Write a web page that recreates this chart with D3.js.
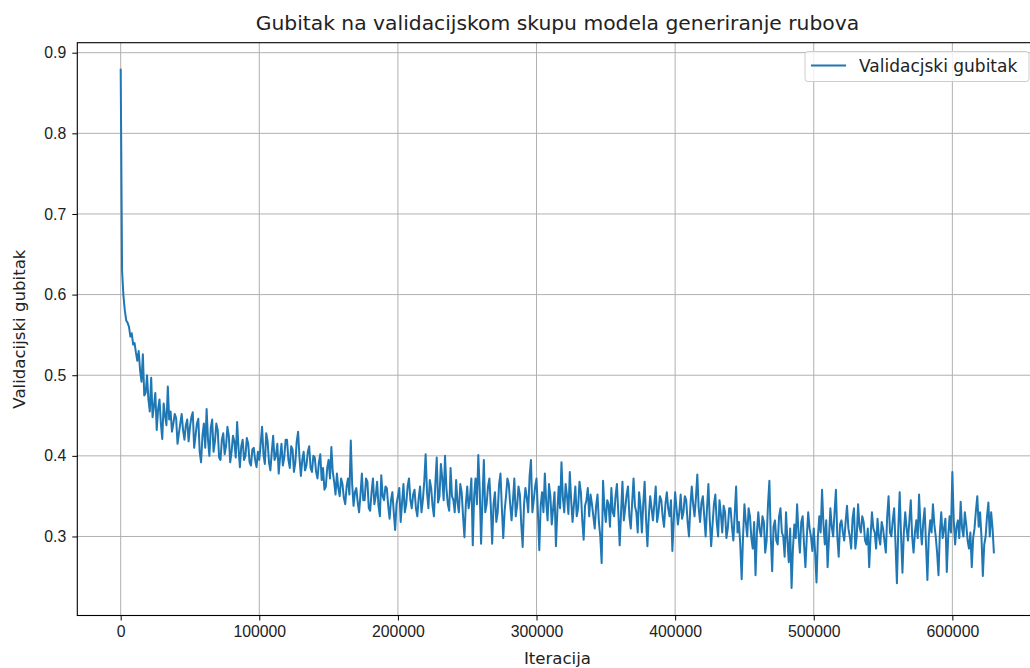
<!DOCTYPE html>
<html>
<head>
<meta charset="utf-8">
<script src="https://cdn.jsdelivr.net/npm/d3@7"></script>
<style>
  body { margin: 0; background: #fff; }
  svg { display: block; font-family: "DejaVu Sans", sans-serif; }
  .grid line { stroke: #b0b0b0; stroke-width: 1; }
  .axis path, .axis line { stroke: #000; }
  .axis text { fill: #222; font-size: 15.8px; }
</style>
</head>
<body>
<svg width="1030" height="668"></svg>
<script>
const title = 'Gubitak na validacijskom skupu modela generiranje rubova';
const xLabel = 'Iteracija';
const yLabel = 'Validacijski gubitak';
const legendLabel = 'Validacjski gubitak';

const xTicks = [0, 100000, 200000, 300000, 400000, 500000, 600000];
const yTicks = [0.3, 0.4, 0.5, 0.6, 0.7, 0.8, 0.9];

// one reading every 1000 iterations, 20 per row
const iterStep = 1000;
const loss = [
  0.880, 0.630, 0.598, 0.580, 0.568, 0.565, 0.560, 0.548, 0.552, 0.538, 0.540, 0.528, 0.518, 0.530, 0.506, 0.492, 0.526, 0.475, 0.478, 0.500,
  0.470, 0.455, 0.497, 0.448, 0.462, 0.478, 0.432, 0.458, 0.470, 0.440, 0.421, 0.465, 0.450, 0.438, 0.486, 0.445, 0.455, 0.430, 0.440, 0.452,
  0.447, 0.415, 0.428, 0.440, 0.452, 0.432, 0.420, 0.438, 0.445, 0.418, 0.436, 0.448, 0.454, 0.410, 0.425, 0.440, 0.446, 0.405, 0.392, 0.425,
  0.440, 0.410, 0.458, 0.420, 0.400, 0.435, 0.445, 0.405, 0.418, 0.440, 0.432, 0.398, 0.395, 0.420, 0.428, 0.402, 0.412, 0.436, 0.425, 0.392,
  0.405, 0.425, 0.418, 0.398, 0.442, 0.410, 0.386, 0.412, 0.420, 0.395, 0.400, 0.422, 0.415, 0.392, 0.388, 0.408, 0.410, 0.395, 0.386, 0.405,
  0.395, 0.415, 0.436, 0.402, 0.390, 0.428, 0.418, 0.392, 0.382, 0.405, 0.425, 0.395, 0.400, 0.415, 0.378, 0.398, 0.415, 0.388, 0.398, 0.420,
  0.420, 0.395, 0.385, 0.412, 0.408, 0.380, 0.392, 0.418, 0.430, 0.398, 0.375, 0.395, 0.405, 0.382, 0.388, 0.405, 0.412, 0.385, 0.380, 0.400,
  0.398, 0.380, 0.372, 0.392, 0.402, 0.370, 0.385, 0.358, 0.362, 0.385, 0.395, 0.372, 0.411, 0.380, 0.368, 0.352, 0.378, 0.360, 0.350, 0.372,
  0.365, 0.348, 0.340, 0.362, 0.372, 0.352, 0.419, 0.365, 0.338, 0.355, 0.360, 0.342, 0.330, 0.352, 0.378, 0.345, 0.345, 0.372, 0.368, 0.335,
  0.332, 0.355, 0.372, 0.340, 0.350, 0.368, 0.338, 0.325, 0.376, 0.350, 0.345, 0.362, 0.360, 0.338, 0.322, 0.345, 0.355, 0.330, 0.308, 0.340,
  0.350, 0.360, 0.318, 0.342, 0.365, 0.330, 0.340, 0.362, 0.372, 0.345, 0.335, 0.352, 0.358, 0.335, 0.325, 0.348, 0.362, 0.330, 0.345, 0.368,
  0.402, 0.355, 0.335, 0.370, 0.360, 0.338, 0.325, 0.365, 0.398, 0.342, 0.350, 0.390, 0.372, 0.345, 0.400, 0.360, 0.340, 0.332, 0.385, 0.350,
  0.345, 0.330, 0.370, 0.342, 0.330, 0.365, 0.355, 0.325, 0.299, 0.340, 0.362, 0.335, 0.348, 0.372, 0.289, 0.350, 0.372, 0.340, 0.401, 0.360,
  0.291, 0.345, 0.395, 0.330, 0.340, 0.362, 0.372, 0.338, 0.291, 0.340, 0.355, 0.318, 0.330, 0.365, 0.378, 0.335, 0.298, 0.332, 0.350, 0.372,
  0.365, 0.340, 0.320, 0.345, 0.372, 0.325, 0.338, 0.362, 0.352, 0.315, 0.287, 0.340, 0.360, 0.348, 0.330, 0.375, 0.395, 0.330, 0.345, 0.362,
  0.372, 0.330, 0.283, 0.338, 0.355, 0.330, 0.378, 0.342, 0.320, 0.365, 0.350, 0.315, 0.335, 0.355, 0.288, 0.330, 0.362, 0.335, 0.392, 0.348,
  0.330, 0.365, 0.350, 0.328, 0.380, 0.345, 0.318, 0.340, 0.362, 0.325, 0.335, 0.368, 0.355, 0.320, 0.296, 0.338, 0.345, 0.360, 0.325, 0.352,
  0.340, 0.325, 0.310, 0.338, 0.352, 0.318, 0.300, 0.267, 0.369, 0.335, 0.318, 0.345, 0.340, 0.312, 0.360, 0.330, 0.325, 0.350, 0.365, 0.330,
  0.289, 0.330, 0.368, 0.320, 0.335, 0.352, 0.362, 0.325, 0.310, 0.342, 0.372, 0.338, 0.330, 0.305, 0.355, 0.338, 0.305, 0.340, 0.368, 0.322,
  0.288, 0.325, 0.350, 0.335, 0.320, 0.340, 0.362, 0.318, 0.330, 0.350, 0.345, 0.325, 0.312, 0.340, 0.355, 0.335, 0.325, 0.345, 0.282, 0.320,
  0.355, 0.335, 0.315, 0.330, 0.352, 0.322, 0.330, 0.350, 0.345, 0.318, 0.300, 0.338, 0.362, 0.340, 0.325, 0.348, 0.377, 0.335, 0.318, 0.342,
  0.350, 0.325, 0.300, 0.335, 0.365, 0.320, 0.288, 0.315, 0.340, 0.352, 0.318, 0.300, 0.345, 0.328, 0.305, 0.338, 0.330, 0.298, 0.310, 0.335,
  0.335, 0.312, 0.295, 0.328, 0.362, 0.305, 0.318, 0.290, 0.247, 0.300, 0.340, 0.318, 0.300, 0.335, 0.325, 0.298, 0.285, 0.318, 0.252, 0.305,
  0.330, 0.308, 0.300, 0.325, 0.318, 0.280, 0.295, 0.340, 0.369, 0.300, 0.257, 0.312, 0.320, 0.295, 0.290, 0.325, 0.335, 0.305, 0.300, 0.275,
  0.330, 0.295, 0.268, 0.310, 0.236, 0.285, 0.315, 0.298, 0.340, 0.305, 0.280, 0.318, 0.325, 0.290, 0.262, 0.300, 0.330, 0.310, 0.300, 0.282,
  0.310, 0.280, 0.243, 0.300, 0.325, 0.305, 0.358, 0.315, 0.290, 0.320, 0.262, 0.298, 0.335, 0.312, 0.300, 0.330, 0.358, 0.300, 0.275, 0.315,
  0.320, 0.305, 0.295, 0.318, 0.338, 0.310, 0.300, 0.285, 0.322, 0.335, 0.285, 0.300, 0.340, 0.312, 0.305, 0.325, 0.318, 0.295, 0.290, 0.310,
  0.262, 0.300, 0.330, 0.310, 0.305, 0.285, 0.322, 0.300, 0.290, 0.318, 0.310, 0.295, 0.280, 0.325, 0.350, 0.305, 0.300, 0.320, 0.335, 0.290,
  0.242, 0.310, 0.355, 0.300, 0.255, 0.305, 0.330, 0.310, 0.295, 0.320, 0.345, 0.300, 0.280, 0.305, 0.320, 0.298, 0.352, 0.312, 0.290, 0.318,
  0.335, 0.290, 0.246, 0.300, 0.320, 0.305, 0.340, 0.315, 0.300, 0.280, 0.252, 0.305, 0.330, 0.298, 0.310, 0.322, 0.256, 0.300, 0.325, 0.305,
  0.380, 0.320, 0.290, 0.312, 0.320, 0.298, 0.343, 0.310, 0.300, 0.330, 0.315, 0.295, 0.285, 0.305, 0.262, 0.298, 0.310, 0.332, 0.350, 0.312,
  0.330, 0.300, 0.251, 0.290, 0.300, 0.325, 0.342, 0.300, 0.330, 0.310, 0.279
];

const svg = d3.select("svg");

// axes box (right edge falls just outside the picture, as in the original)
const plotLeft = 77.3, plotRight = 1037.6, plotTop = 42.7, plotBottom = 615.5;

const x = d3.scaleLinear().domain([-31300, 661500]).range([plotLeft, plotRight]);
const y = d3.scaleLinear().domain([0.2020, 0.9124]).range([plotBottom, plotTop]);

const grid = svg.append('g').attr('class', 'grid');
grid.selectAll('.gx').data(xTicks).enter().append('line')
    .attr('x1', d => x(d)).attr('x2', d => x(d))
    .attr('y1', plotTop).attr('y2', plotBottom);
grid.selectAll('.gy').data(yTicks).enter().append('line')
    .attr('x1', plotLeft).attr('x2', plotRight)
    .attr('y1', d => y(d)).attr('y2', d => y(d));

const line = d3.line()
    .x((d, i) => x(i * iterStep))
    .y(d => y(d));

svg.append('path')
    .datum(loss)
    .attr('fill', 'none')
    .attr('stroke', '#1f77b4')
    .attr('stroke-width', 2)
    .attr('stroke-linejoin', 'round')
    .attr('d', line);

// spines
svg.append('rect')
    .attr('x', plotLeft).attr('y', plotTop)
    .attr('width', plotRight - plotLeft).attr('height', plotBottom - plotTop)
    .attr('fill', 'none').attr('stroke', '#000').attr('stroke-width', 1.1);

const xAxis = svg.append('g').attr('class', 'axis')
    .attr('transform', `translate(0,${plotBottom})`)
    .call(d3.axisBottom(x).tickValues(xTicks).tickFormat(d3.format('d'))
        .tickSizeInner(5).tickSizeOuter(0).tickPadding(5));
xAxis.select('.domain').remove();

const yAxis = svg.append('g').attr('class', 'axis')
    .attr('transform', `translate(${plotLeft},0)`)
    .call(d3.axisLeft(y).tickValues(yTicks).tickFormat(d3.format('.1f'))
        .tickSizeInner(5).tickSizeOuter(0).tickPadding(6));
yAxis.select('.domain').remove();

const midX = (plotLeft + plotRight) / 2;

svg.append('text')
    .attr('x', midX).attr('y', 30)
    .attr('text-anchor', 'middle')
    .attr('font-size', '20.3px').attr('fill', '#222')
    .text(title);

svg.append('text')
    .attr('x', midX).attr('y', 664)
    .attr('text-anchor', 'middle')
    .attr('font-size', '16.6px').attr('fill', '#222')
    .text(xLabel);

svg.append('text')
    .attr('transform', `translate(25,${(plotTop + plotBottom) / 2}) rotate(-90)`)
    .attr('text-anchor', 'middle')
    .attr('font-size', '16.6px').attr('fill', '#222')
    .text(yLabel);

// legend
const legend = svg.append('g').attr('transform', 'translate(805,51.5)');
legend.append('rect')
    .attr('width', 224).attr('height', 30).attr('rx', 3)
    .attr('fill', '#fff').attr('fill-opacity', 0.8)
    .attr('stroke', '#cccccc');
legend.append('line')
    .attr('x1', 6).attr('x2', 41).attr('y1', 14).attr('y2', 14)
    .attr('stroke', '#1f77b4').attr('stroke-width', 2);
legend.append('text')
    .attr('x', 54).attr('y', 20.5)
    .attr('font-size', '17px').attr('fill', '#222')
    .text(legendLabel);
</script>
</body>
</html>
